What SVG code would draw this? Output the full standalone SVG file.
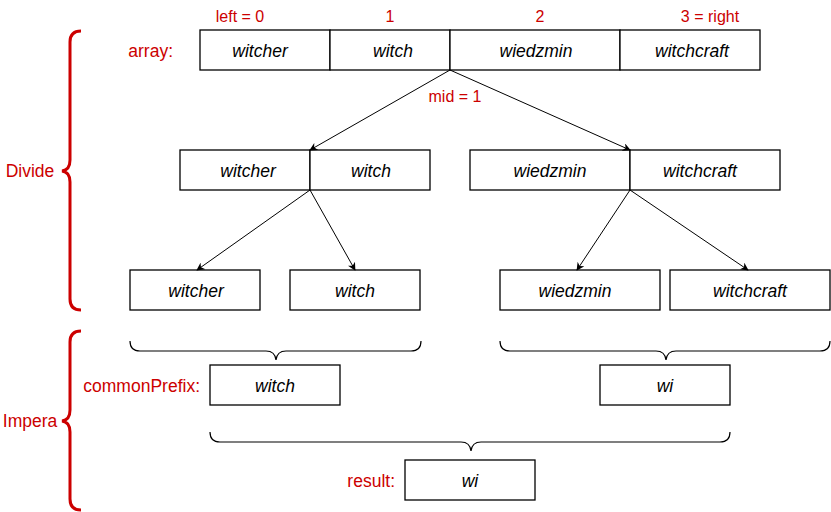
<svg xmlns="http://www.w3.org/2000/svg" width="831" height="512" viewBox="0 0 831 512">
<style>
.box{fill:#fff;stroke:#000;stroke-width:1.3}
.t{font-family:"Liberation Sans",Arial,sans-serif;font-size:17.5px;font-style:italic;fill:#000;text-anchor:middle;dominant-baseline:central}
.r{font-family:"Liberation Sans",Arial,sans-serif;font-size:17.5px;fill:#cc0000;dominant-baseline:central}
.s{font-size:16px}
.edge{stroke:#000;stroke-width:1;fill:none;marker-end:url(#arr)}
.rb{fill:none;stroke:#cc0000;stroke-width:3}
.kb{fill:none;stroke:#000;stroke-width:1.2}
</style>
<defs>
<marker id="arr" viewBox="0 0 10 10" refX="9" refY="5" markerWidth="8" markerHeight="8" orient="auto" markerUnits="userSpaceOnUse">
<path d="M0,0 L10,5 L0,10 L3,5 Z" fill="#000"/>
</marker>
</defs>
<g id="labels">
<text class="r s" x="240" y="16" text-anchor="middle">left = 0</text>
<text class="r s" x="390" y="16" text-anchor="middle">1</text>
<text class="r s" x="540" y="16" text-anchor="middle">2</text>
<text class="r s" x="710" y="16" text-anchor="middle">3 = right</text>
<text class="r" x="173" y="51" text-anchor="end">array:</text>
<text class="r s" x="455" y="96" text-anchor="middle">mid = 1</text>
<text class="r" x="30" y="171" text-anchor="middle">Divide</text>
<text class="r" x="30" y="421" text-anchor="middle">Impera</text>
<text class="r" x="200" y="386" text-anchor="end">commonPrefix:</text>
<text class="r" x="395" y="481" text-anchor="end">result:</text>
</g>
<g id="array">
<rect class="box" x="200" y="30" width="130" height="40"/><text class="t" x="260" y="51">witcher</text>
<rect class="box" x="330" y="30" width="120" height="40"/><text class="t" x="393" y="51">witch</text>
<rect class="box" x="450" y="30" width="170" height="40"/><text class="t" x="536" y="51">wiedzmin</text>
<rect class="box" x="620" y="30" width="140" height="40"/><text class="t" x="692" y="51">witchcraft</text>
</g>
<g id="left-half">
<rect class="box" x="180" y="150" width="130" height="40"/><text class="t" x="248" y="171">witcher</text>
<rect class="box" x="310" y="150" width="120" height="40"/><text class="t" x="371" y="171">witch</text>
</g>
<g id="right-half">
<rect class="box" x="470" y="150" width="160" height="40"/><text class="t" x="550" y="171">wiedzmin</text>
<rect class="box" x="630" y="150" width="150" height="40"/><text class="t" x="700" y="171">witchcraft</text>
</g>
<g id="leaf-witcher"><rect class="box" x="130" y="270" width="130" height="40"/><text class="t" x="196" y="291">witcher</text></g>
<g id="leaf-witch"><rect class="box" x="290" y="270" width="130" height="40"/><text class="t" x="355" y="291">witch</text></g>
<g id="leaf-wiedzmin"><rect class="box" x="500" y="270" width="160" height="40"/><text class="t" x="575" y="291">wiedzmin</text></g>
<g id="leaf-witchcraft"><rect class="box" x="670" y="270" width="160" height="40"/><text class="t" x="750" y="291">witchcraft</text></g>
<g id="prefix-left"><rect class="box" x="210" y="365" width="130" height="40"/><text class="t" x="275" y="386">witch</text></g>
<g id="prefix-right"><rect class="box" x="600" y="365" width="130" height="40"/><text class="t" x="665" y="386">wi</text></g>
<g id="result"><rect class="box" x="405" y="460" width="130" height="40"/><text class="t" x="470" y="481">wi</text></g>
<g id="connectors">
<line class="edge" x1="450" y1="70" x2="310" y2="150"/>
<line class="edge" x1="450" y1="70" x2="630" y2="150"/>
<line class="edge" x1="310" y1="190" x2="197" y2="270"/>
<line class="edge" x1="310" y1="190" x2="355" y2="270"/>
<line class="edge" x1="630" y1="190" x2="577" y2="270"/>
<line class="edge" x1="630" y1="190" x2="748" y2="270"/>
</g>
<g id="braces">
<path class="rb" d="M81,31 Q70,31 70,42 L70,160 Q70,170 62,171 Q70,172 70,182 L70,299 Q70,310 81,310"/>
<path class="rb" d="M81,331 Q70,331 70,342 L70,410 Q70,420 62,421 Q70,422 70,432 L70,499 Q70,510 81,510"/>
<path class="kb" d="M130,341 Q130,351 140,351 L266,351 Q275,351 276,360 Q277,351 286,351 L411,351 Q421,351 421,341"/>
<path class="kb" d="M500,341 Q500,351 510,351 L656,351 Q665,351 666,360 Q667,351 676,351 L820,351 Q830,351 830,341"/>
<path class="kb" d="M210,432 Q210,442 220,442 L461,442 Q470,442 471,451 Q472,442 481,442 L720,442 Q730,442 730,432"/>
</g>
</svg>
